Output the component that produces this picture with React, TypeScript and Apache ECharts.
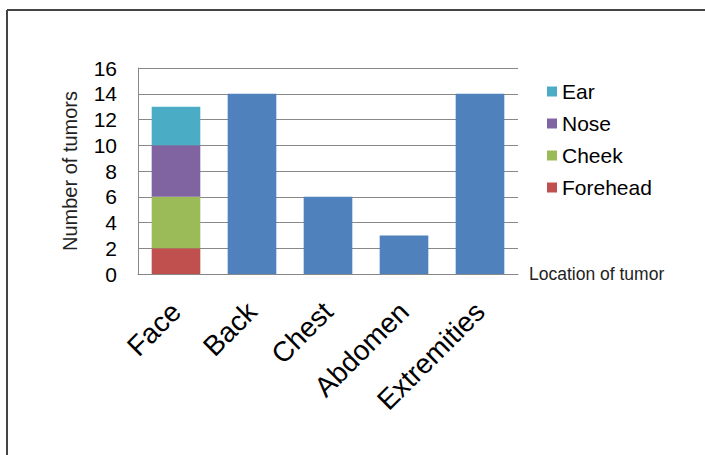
import React, { useEffect, useRef } from "react";
import * as echarts from "echarts";

const categories = ["Face", "Back", "Chest", "Abdomen", "Extremities"];
const forehead = [2, null, null, null, null];
const cheek = [4, null, null, null, null];
const nose = [4, null, null, null, null];
const ear = [3, null, null, null, null];
const total = [null, 14, 6, 3, 14];
const yMin = 0;
const yMax = 16;
const yInterval = 2;

const FONT = "Liberation Sans, Arial, sans-serif";

export default function App() {
  const ref = useRef<HTMLDivElement>(null);
  useEffect(() => {
    if (!ref.current) return;
    const chart = echarts.init(ref.current, null, { renderer: "svg" });
    const mk = (name: string, data: any[], color: string) => ({
      name,
      type: "bar",
      stack: "s",
      data,
      barCategoryGap: "36%",
      itemStyle: { color },
    });
    chart.setOption({
      animation: false,
      backgroundColor: "#ffffff",
      grid: { left: 138, top: 68, width: 380, height: 206, containLabel: false },
      legend: {
        data: ["Ear", "Nose", "Cheek", "Forehead"],
        orient: "vertical",
        left: 547,
        top: 81,
        padding: 0,
        itemWidth: 10,
        itemHeight: 10,
        itemGap: 11,
        icon: "rect",
        textStyle: { fontFamily: FONT, fontSize: 21, color: "#000" },
      },
      xAxis: {
        type: "category",
        data: categories,
        name: "Location of tumor",
        nameLocation: "end",
        nameGap: 11,
        nameTextStyle: { fontFamily: FONT, fontSize: 17.5, color: "#222", verticalAlign: "middle" },
        axisLine: { show: true, lineStyle: { color: "#888", width: 1 } },
        axisTick: { show: false },
        axisLabel: { rotate: 45, fontFamily: FONT, fontSize: 28, color: "#000", margin: 33, interval: 0 },
      },
      yAxis: {
        type: "value",
        min: yMin,
        max: yMax,
        interval: yInterval,
        name: "Number of tumors",
        nameLocation: "middle",
        nameGap: 58,
        nameTextStyle: { fontFamily: FONT, fontSize: 20, color: "#222" },
        axisLine: { show: true, lineStyle: { color: "#888", width: 1 } },
        axisTick: { show: false },
        axisLabel: { fontFamily: FONT, fontSize: 21, color: "#000", margin: 21 },
        splitLine: { show: true, lineStyle: { color: "#888", width: 1 } },
      },
      graphic: [
        { type: "line", shape: { x1: 7, y1: 10, x2: 705, y2: 10 }, style: { stroke: "#444", lineWidth: 2 } },
        { type: "line", shape: { x1: 7, y1: 10, x2: 7, y2: 455 }, style: { stroke: "#444", lineWidth: 2 } },
      ],
      series: [
        mk("Forehead", forehead, "#C0504D"),
        mk("Cheek", cheek, "#9BBB59"),
        mk("Nose", nose, "#8064A2"),
        mk("Ear", ear, "#4BACC6"),
        mk("Total", total, "#4F81BD"),
      ],
    });
    return () => chart.dispose();
  }, []);
  return (
    <div
      ref={ref}
      style={{ position: "fixed", left: 0, top: 0, width: 705, height: 455 }}
    />
  );
}
